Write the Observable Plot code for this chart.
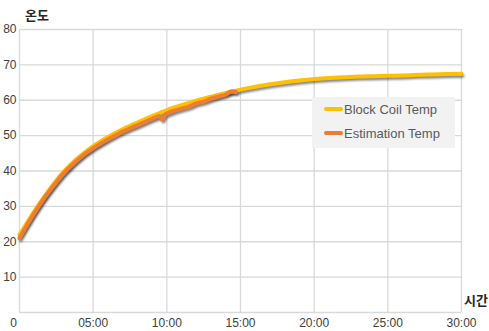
<!DOCTYPE html>
<html>
<head>
<meta charset="utf-8">
<script src="https://cdn.jsdelivr.net/npm/d3@7"></script>
<script src="https://cdn.jsdelivr.net/npm/@observablehq/plot@0.6"></script>
<style>
  body { margin: 0; background: #fff; }
  #wrap { position: relative; width: 489px; height: 331px; font-family: "Noto Sans", "Liberation Sans", sans-serif; }
  #wrap svg { position: absolute; left: 0; top: 0; }
  .shadow path { filter: blur(0.8px); }
  .ttl { position: absolute; white-space: nowrap; font-family: "Noto Sans CJK KR", sans-serif; font-weight: 700; font-size: 13px; color: #262626; line-height: 1; }
  #legend { position: absolute; left: 312px; top: 97px; width: 143px; height: 51px; background: #f2f2f2; }
  .item { position: absolute; left: 12px; height: 18px; white-space: nowrap; display: flex; align-items: center; font-size: 13px; color: #595959; font-family: "Liberation Sans", sans-serif; }
  .swatch { width: 19px; height: 4px; border-radius: 2px; margin-right: 1px; }
</style>
</head>
<body>
<div id="wrap"></div>
<script>
// Data (minutes, °C)
const minutes = [0, 0.5, 1, 1.5, 2, 2.5, 3, 3.5, 4, 4.5, 5, 6, 7, 8, 9, 10, 11, 12, 13, 14, 15, 16, 17, 18, 19, 20, 21, 22, 23, 24, 25, 26, 27, 28, 29, 30];
const blockCoil = [22.0, 25.3, 28.6, 31.7, 34.6, 37.3, 39.8, 41.9, 43.8, 45.5, 47.0, 49.6, 51.8, 53.7, 55.5, 57.2, 58.6, 59.9, 61.0, 62.1, 63.0, 63.8, 64.5, 65.1, 65.6, 66.0, 66.3, 66.5, 66.7, 66.8, 66.9, 67.0, 67.2, 67.3, 67.4, 67.5];
const estMinutes = [0, 0.5, 1, 1.5, 2, 2.5, 3, 3.5, 4, 4.5, 5, 5.5, 6, 6.5, 7, 7.5, 8, 8.5, 9, 9.5, 9.7, 9.9, 10.5, 11, 11.5, 12, 12.5, 13, 13.5, 14, 14.4, 14.7];
const estimation = [21.0, 24.6, 28.0, 31.2, 34.1, 36.8, 39.3, 41.4, 43.3, 45.0, 46.4, 47.7, 48.9, 50.0, 51.1, 52.0, 52.9, 53.8, 54.7, 55.5, 54.6, 56.0, 57.0, 57.6, 58.2, 59.1, 59.6, 60.4, 61.0, 61.6, 62.5, 62.3];
const seriesNames = ["Block Coil Temp", "Estimation Temp"];
const seriesColors = ["#FFC000", "#ED7D31"];
const xTicks = [0, 5, 10, 15, 20, 25, 30];
const xTickLabels = ["0", "05:00", "10:00", "15:00", "20:00", "25:00", "30:00"];
const yTicks = [10, 20, 30, 40, 50, 60, 70, 80];
const yGrid = [0, 10, 20, 30, 40, 50, 60, 70, 80];
const yTitle = "온도";
const xTitle = "시간";

const block = minutes.map((t, i) => ({t, v: blockCoil[i]}));
const est = estMinutes.map((t, i) => ({t, v: estimation[i]}));
const labelOf = new Map(xTicks.map((t, i) => [t, xTickLabels[i]]));

const chart = Plot.plot({
  width: 489,
  height: 331,
  marginLeft: 19,
  marginRight: 28,
  marginTop: 29,
  marginBottom: 19,
  style: {fontFamily: "'Liberation Sans', sans-serif", fontSize: "12px", color: "#404040", background: "transparent"},
  x: {domain: [0, 30]},
  y: {domain: [0, 80]},
  marks: [
    Plot.gridY(yGrid, {stroke: "#d9d9d9", strokeOpacity: 1, strokeWidth: 1.3}),
    Plot.gridX(xTicks, {stroke: "#d9d9d9", strokeOpacity: 1, strokeWidth: 1.3}),
    Plot.line(block, {x: "t", y: "v", stroke: "#000", strokeOpacity: 0.5, strokeWidth: 3.5, dx: 1.2, dy: 2.2, className: "shadow"}),
    Plot.line(est, {x: "t", y: "v", stroke: "#000", strokeOpacity: 0.5, strokeWidth: 3.5, dx: 1.2, dy: 2.2, className: "shadow"}),
    Plot.line(block, {x: "t", y: "v", stroke: seriesColors[0], strokeWidth: 4, curve: "monotone-x"}),
    Plot.line(est, {x: "t", y: "v", stroke: seriesColors[1], strokeWidth: 4.2, curve: "monotone-x"}),
    Plot.axisY(yTicks, {tickSize: 0, tickPadding: 3, label: null, fill: "#404040", fontSize: 12}),
    Plot.axisX(xTicks.slice(1), {tickSize: 0, tickPadding: 6, label: null, tickFormat: d => labelOf.get(d), fill: "#404040", fontSize: 12}),
    Plot.axisX(xTicks.slice(0, 1), {tickSize: 0, tickPadding: 6, label: null, dx: -6, tickFormat: d => labelOf.get(d), fill: "#404040", fontSize: 12})
  ]
});

const wrap = document.getElementById("wrap");
wrap.appendChild(chart);

const t1 = document.createElement("div");
t1.className = "ttl"; t1.textContent = yTitle;
t1.style.left = "25px"; t1.style.top = "8px";
wrap.appendChild(t1);
const t2 = document.createElement("div");
t2.className = "ttl"; t2.textContent = xTitle;
t2.style.left = "464px"; t2.style.top = "293px";
wrap.appendChild(t2);

const legend = document.createElement("div");
legend.id = "legend";
seriesNames.forEach((name, i) => {
  const it = document.createElement("div");
  it.className = "item";
  it.style.top = (3 + i * 24) + "px";
  const sw = document.createElement("div");
  sw.className = "swatch"; sw.style.background = seriesColors[i];
  it.appendChild(sw);
  const tx = document.createElement("span");
  tx.textContent = name;
  it.appendChild(tx);
  legend.appendChild(it);
});
wrap.appendChild(legend);
</script>
</body>
</html>
